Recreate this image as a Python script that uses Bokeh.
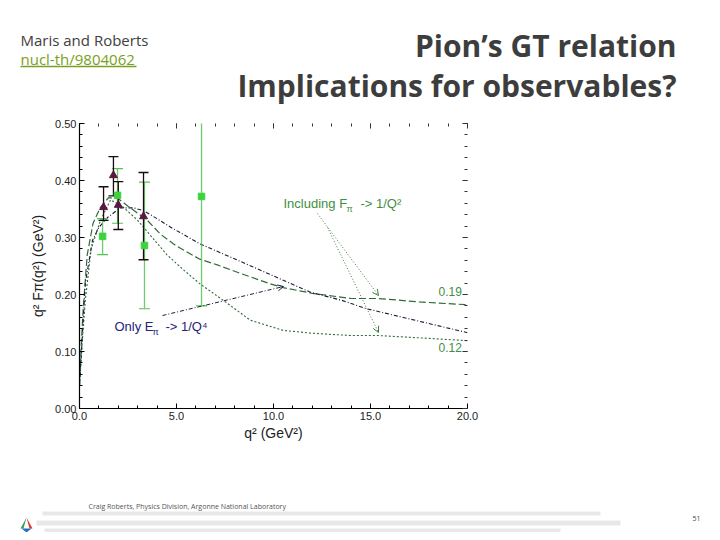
from bokeh.plotting import figure
from bokeh.layouts import column
from bokeh.models import (Range1d, LinearAxis, Label, Arrow, OpenHead, FixedTicker,
                          PrintfTickFormatter, CustomJSTickFormatter)
from bokeh.core.properties import value
from bokeh.embed import file_html
from bokeh.resources import INLINE

# ---------------- data ----------------
# theory curve approaching 0.19 (Including F_pi -> 1/Q^2)
c19_x = [0.0, 0.1, 0.2, 0.4, 0.7, 1.08, 1.5, 2.0, 2.5, 3.5, 4.2, 5.0, 6.2, 7.1, 8.3, 9.8, 10.5, 12.0, 14.0, 15.4, 17.5, 20.0]
c19_y = [0.04, 0.12, 0.18, 0.27, 0.325, 0.353, 0.370, 0.368, 0.355, 0.330, 0.305, 0.285, 0.262, 0.252, 0.237, 0.219, 0.212, 0.202, 0.193, 0.193, 0.187, 0.182]
# theory curve approaching 0.12 (Including F_pi -> 1/Q^2)
c12_x = [0.0, 0.15, 0.3, 0.6, 1.08, 1.6, 2.2, 3.0, 3.5, 4.5, 5.3, 6.2, 7.4, 8.8, 10.5, 12.0, 14.0, 15.4, 17.5, 20.0]
c12_y = [0.04, 0.12, 0.19, 0.28, 0.330, 0.366, 0.355, 0.330, 0.310, 0.270, 0.245, 0.219, 0.190, 0.155, 0.137, 0.132, 0.128, 0.128, 0.124, 0.119]
# theory curve: only E_pi -> 1/Q^4
ce_x = [0.0, 0.15, 0.3, 0.67, 1.0, 1.44, 2.1, 2.8, 3.3, 4.0, 4.7, 6.2, 8.3, 10.5, 11.9, 13.5, 14.8, 17.4, 20.0]
ce_y = [0.04, 0.13, 0.22, 0.295, 0.318, 0.335, 0.352, 0.352, 0.347, 0.333, 0.318, 0.289, 0.258, 0.225, 0.204, 0.190, 0.175, 0.154, 0.133]

# data set 1 (triangles)
tri_x = [1.24, 1.75, 2.0, 3.3]
tri_y = [0.353, 0.409, 0.357, 0.337]
tri_lo = [0.330, 0.373, 0.314, 0.261]
tri_hi = [0.389, 0.442, 0.398, 0.414]
# data set 2 (squares)
sq_x = [1.19, 1.96, 3.35, 6.29]
sq_y = [0.302, 0.374, 0.286, 0.372]
sq_lo = [0.270, 0.325, 0.175, 0.180]
sq_hi = [0.333, 0.421, 0.397, 0.560]

x_ticks = [0, 5, 10, 15, 20]
y_ticks = [0.0, 0.1, 0.2, 0.3, 0.4, 0.5]

# slide texts
header_left = ["Maris and Roberts", "nucl-th/9804062"]
title_lines = ["Pion’s GT relation", "Implications for observables?"]
footer_text = "Craig Roberts, Physics Division, Argonne National Laboratory"
page_number = "51"

# ---------------- layout geometry (page pixels) ----------------
W = 712
HEAD_H = 110          # header band: page y 0..110
CHART_H = 370         # chart band: page y 110..480
FOOT_H = 52           # footer band: page y 480..532
FL, FR, FT, FB = 79, 467, 123, 408   # plot frame, page px

SLIDE_FONT = "Open Sans"
AX_FONT = "Liberation Sans"


def bare(height, y0, y1):
    f = figure(width=W, height=height, output_backend="svg", toolbar_location=None,
               x_range=Range1d(0, W), y_range=Range1d(y1, y0),
               min_border=0, min_border_left=0, min_border_right=0, min_border_top=0, min_border_bottom=0)
    f.axis.visible = False
    f.grid.visible = False
    f.outline_line_color = None
    f.background_fill_color = "white"
    f.border_fill_color = "white"
    f.frame_align = False
    return f


# ---------------- header ----------------
head = bare(HEAD_H, 0, HEAD_H)
head.text(x=[20], y=[39], text=[header_left[0]], text_font=value(SLIDE_FONT), text_font_size="15px",
          text_color="#404040", text_baseline="middle")
head.text(x=[20], y=[58], text=[header_left[1]], text_font=value(SLIDE_FONT), text_font_size="15px",
          text_color="#79a022", text_baseline="middle")
head.segment(x0=[20], y0=[66], x1=[136], y1=[66], line_color="#79a022", line_width=1.5)
head.text(x=[676, 676], y=[45, 85], text=title_lines, text_font=value(SLIDE_FONT), text_font_size="30px",
          text_font_style="bold", text_color="#3d3d3d", text_align="right", text_baseline="middle")

# ---------------- chart ----------------
p = figure(width=W, height=CHART_H, output_backend="svg", toolbar_location=None,
           x_range=Range1d(0, 20), y_range=Range1d(0, 0.5),
           min_border_left=FL, min_border_right=W - FR, min_border_top=FT - HEAD_H,
           min_border_bottom=HEAD_H + CHART_H - FB,
           x_axis_label="q² (GeV²)", y_axis_label="q² Fπ(q²) (GeV²)")
p.frame_align = False
p.outline_line_color = None
p.xgrid.visible = False
p.ygrid.visible = False
p.background_fill_color = "white"
p.border_fill_color = "white"

for ax in (p.xaxis[0], p.yaxis[0]):
    ax.axis_line_color = "black"
    ax.axis_line_width = 1.2
    ax.major_tick_in = 5
    ax.major_tick_out = 0
    ax.minor_tick_in = 3
    ax.minor_tick_out = 0
    ax.major_tick_line_color = "black"
    ax.minor_tick_line_color = "black"
    ax.major_label_text_font = AX_FONT
    ax.major_label_text_font_size = "11px"
    ax.major_label_text_color = "#222222"
    ax.axis_label_text_font = AX_FONT
    ax.axis_label_text_font_size = "14px"
    ax.axis_label_text_font_style = "normal"
    ax.axis_label_text_color = "#222222"
p.xaxis[0].ticker = FixedTicker(ticks=x_ticks, minor_ticks=list(range(0, 21)))
p.yaxis[0].ticker = FixedTicker(ticks=y_ticks, minor_ticks=[i * 0.02 for i in range(26)])
p.xaxis[0].formatter = PrintfTickFormatter(format="%.1f")
p.yaxis[0].formatter = PrintfTickFormatter(format="%.2f")
p.xaxis[0].major_label_standoff = 3
p.yaxis[0].major_label_standoff = 3
p.xaxis[0].axis_label_standoff = 2
p.yaxis[0].axis_label_standoff = 6

blank = CustomJSTickFormatter(code="return ''")
top_ax = LinearAxis(ticker=FixedTicker(ticks=x_ticks, minor_ticks=list(range(0, 21))), formatter=blank,
                    axis_line_alpha=0, major_tick_in=5, major_tick_out=0, minor_tick_in=3, minor_tick_out=0,
                    major_tick_line_color="#333333", minor_tick_line_color="#333333",
                    major_label_text_font_size="1px")
right_ax = LinearAxis(ticker=FixedTicker(ticks=y_ticks, minor_ticks=[i * 0.02 for i in range(26)]), formatter=blank,
                      axis_line_alpha=0, major_tick_in=5, major_tick_out=0, minor_tick_in=3, minor_tick_out=0,
                      major_tick_line_color="#333333", minor_tick_line_color="#333333",
                      major_label_text_font_size="1px")
p.add_layout(top_ax, "above")
p.add_layout(right_ax, "right")

# curves
p.line(c19_x, c19_y, line_color="#2f6b3a", line_width=1.2, line_dash="7 3")
p.line(c12_x, c12_y, line_color="#2f6b3a", line_width=1.1, line_dash="2 2")
p.line(ce_x, ce_y, line_color="#1c1c3a", line_width=1.1, line_dash="4 2 1 2")

# error bars and points
p.segment(sq_x, sq_lo, sq_x, sq_hi, line_color="#55c255", line_width=1.3, line_alpha=0.85)
p.scatter(sq_x, sq_lo, marker="dash", size=11, line_color="#55c255", line_width=1.2)
p.scatter(sq_x, sq_hi, marker="dash", size=11, line_color="#55c255", line_width=1.2)
p.segment(tri_x, tri_lo, tri_x, tri_hi, line_color="#1a0a14", line_width=1.3)
p.scatter(tri_x, tri_lo, marker="dash", size=10, line_color="#1a0a14", line_width=1.3)
p.scatter(tri_x, tri_hi, marker="dash", size=10, line_color="#1a0a14", line_width=1.3)
p.scatter(sq_x, sq_y, marker="square", size=6.5, fill_color="#3ed23e", line_color="#3ed23e")
p.scatter(tri_x, tri_y, marker="triangle", size=8, fill_color="#5a1840", line_color="#5a1840")


def dx(px):  # page pixel -> data x
    return (px - FL) * 20.0 / (FR - FL)


def dy(py):  # page pixel -> data y
    return (FB - py) * 0.5 / (FB - FT)


def lab(text, px, py, size, color, align="left"):
    p.add_layout(Label(x=dx(px), y=dy(py), text=text, text_font=AX_FONT, text_font_size=size,
                       text_color=color, text_align=align, text_baseline="middle"))


GREEN_T = "#3f8f3f"
lab("Including F", 283, 203, "13px", GREEN_T)
lab("π", 346, 208, "9px", GREEN_T)
lab("-> 1/Q²", 360, 203, "13px", GREEN_T)
lab("Only E", 114, 326, "13px", "#23237a")
lab("π", 152, 331, "9px", "#23237a")
lab("-> 1/Q⁴", 165, 326, "13px", "#23237a")
lab("0.19", 438, 291, "12px", GREEN_T)
lab("0.12", 438, 347, "12px", GREEN_T)

p.add_layout(Arrow(x_start=dx(317), y_start=dy(213), x_end=dx(378), y_end=dy(295),
                   line_color="#3f7f3f", line_dash="1 2", line_width=1,
                   end=OpenHead(size=6, line_color="#3f7f3f", line_width=1)))
p.add_layout(Arrow(x_start=dx(327), y_start=dy(227), x_end=dx(378), y_end=dy(332),
                   line_color="#3f7f3f", line_dash="1 2", line_width=1,
                   end=OpenHead(size=6, line_color="#3f7f3f", line_width=1)))
p.add_layout(Arrow(x_start=dx(162), y_start=dy(315), x_end=dx(283), y_end=dy(286),
                   line_color="#1c1c3a", line_dash="4 2 1 2", line_width=1,
                   end=OpenHead(size=6, line_color="#1c1c3a", line_width=1)))

# ---------------- footer ----------------
Y0 = HEAD_H + CHART_H
foot = bare(FOOT_H, Y0, Y0 + FOOT_H)
foot.quad(left=[42, 36, 44], right=[600, 620, 560], top=[511, 520, 528], bottom=[515, 525, 532],
          fill_color="#e2e2e2", fill_alpha=0.8, line_color=None)
foot.text(x=[88], y=[506], text=[footer_text], text_font=value(SLIDE_FONT), text_font_size="7px",
          text_color="#555555", text_baseline="middle")
foot.text(x=[700], y=[518], text=[page_number], text_font=value(SLIDE_FONT), text_font_size="7px",
          text_color="#444444", text_align="right", text_baseline="middle")
foot.patches(xs=[[20, 26, 23], [26, 32, 29], [21, 31, 26]], ys=[[528, 517, 528], [517, 528, 528], [528, 528, 532]],
             fill_color=["#3aa04a", "#d83a2a", "#2a6fc0"], line_color=None)

layout = column(head, p, foot, spacing=0)
open("out.html", "w").write(file_html(layout, INLINE))
